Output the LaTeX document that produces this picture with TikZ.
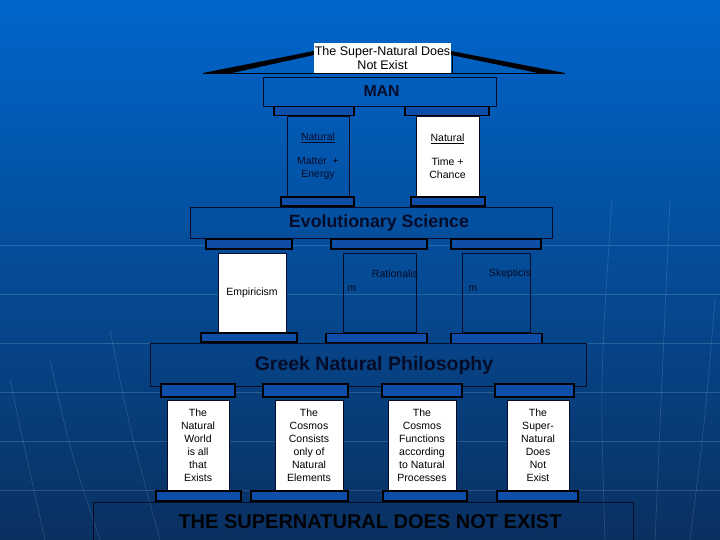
\documentclass[tikz,border=0pt]{standalone}
\usepackage{fontspec}
\setmainfont{Liberation Sans}
\usepackage{tikz}
\usetikzlibrary{positioning}

\definecolor{bgtop}{RGB}{0,102,204}
\definecolor{bgbot}{RGB}{10,48,96}
\definecolor{navy}{RGB}{6,12,40}
\definecolor{capblue}{RGB}{14,78,168}

\begin{document}
\begin{tikzpicture}[
  x=1pt, y=-1pt,
  beam/.style={draw=navy, inner sep=0, text=navy, font=\bfseries},
  capital/.style={draw=black, line width=1.8pt, fill=capblue, inner sep=0},
  pillar/.style={draw=navy, inner sep=0, align=center, font=\fontsize{10.5}{13}\selectfont},
  label/.style={inner sep=0, text=navy, font=\fontsize{10.5}{13}\selectfont},
  globe/.style={white!70!bgtop, opacity=0.2, line width=0.6pt},
]
\useasboundingbox (0,0) rectangle (720,540);
\clip (0,0) rectangle (720,540);

% Background
\shade[top color=bgtop, bottom color=bgbot] (0,0) rectangle (720,540);
\foreach \yy in {245,294,343,392,441,490}
  \draw[globe] (0,\yy) -- (720,\yy);
\draw[globe] (10,380) .. controls (25,450) .. (45,540);
\draw[globe] (50,360) .. controls (70,450) .. (100,540);
\draw[globe] (110,330) .. controls (130,430) .. (160,540);
\draw[globe] (612,200) .. controls (600,380) .. (605,540);
\draw[globe] (670,200) .. controls (662,380) .. (655,540);
\draw[globe] (715,300) .. controls (705,420) .. (690,540);

% Roof
\fill[black] (203,73) -- (314,51) -- (314,55) -- (232,73) -- cycle;
\fill[black] (451,51) -- (565,73) -- (538,73) -- (451,55) -- cycle;
\draw[black] (203,73) -- (565,73);
\draw[black] (452,54) -- (452,73);
\node[fill=white, inner sep=0, minimum width=137pt, minimum height=30pt, align=center,
  font=\fontsize{12.5}{14}\selectfont] (roof) at (382.5,58) {The Super-Natural Does\\Not Exist};

% MAN
\node[beam, minimum width=233pt, minimum height=29pt] (man) at (379.5,91.5) {};
\node[beam, draw=none, font=\bfseries\fontsize{15.8}{18}\selectfont] (mantxt) at (381.5,91.5) {MAN};
\node[capital, minimum width=80pt, minimum height=9pt] (capA) at (314,111) {};
\node[capital, minimum width=84pt, minimum height=9pt] (capB) at (447,111) {};
\node[pillar, text=navy, minimum width=62pt, minimum height=80pt] (matter) at (318,156)
  {\underline{Natural}\\[11pt]Matter \ +\\Energy};
\node[pillar, fill=white, minimum width=63pt, minimum height=80pt] (chance) at (447.5,156)
  {\underline{Natural}\\[11pt]Time +\\Chance};
\node[capital, minimum width=73pt, minimum height=9pt] (baseA) at (317.5,201.5) {};
\node[capital, minimum width=74pt, minimum height=9pt] (baseB) at (448,201.5) {};

% Evolutionary Science
\node[beam, minimum width=362pt, minimum height=31pt] (evo) at (371,222.5) {};
\node[beam, draw=none, font=\bfseries\fontsize{17.8}{20}\selectfont] (evotxt) at (379,222.5) {Evolutionary Science};
\node[capital, minimum width=86pt, minimum height=10pt] (capC) at (249,244) {};
\node[capital, minimum width=96pt, minimum height=10pt] (capD) at (379,244) {};
\node[capital, minimum width=90pt, minimum height=10pt] (capE) at (496,244) {};
\node[pillar, fill=white, minimum width=68pt, minimum height=79pt] (emp) at (252,292.5) {Empiricism};
\node[pillar, minimum width=73pt, minimum height=79pt] (rat) at (379.5,292.5) {};
\node[pillar, minimum width=68pt, minimum height=79pt] (skep) at (496,292.5) {};
\node[label] (ratA) at (395,274) {Rationalis};
\node[label] (ratB) at (352,289) {m};
\node[label] (skepA) at (510,274) {Skepticis};
\node[label] (skepB) at (473,289) {m};
\node[capital, minimum width=96pt, minimum height=9pt] (baseC) at (249,337.5) {};
\node[capital, minimum width=101pt, minimum height=9pt] (baseD) at (376.5,338) {};
\node[capital, minimum width=91pt, minimum height=10pt] (baseE) at (496.5,338.5) {};

% Greek Natural Philosophy
\node[beam, minimum width=436pt, minimum height=43pt] (greek) at (368,364.5) {};
\node[beam, draw=none, font=\bfseries\fontsize{19.5}{22}\selectfont] (greektxt) at (374,365.5) {Greek Natural Philosophy};
\node[capital, minimum width=74pt, minimum height=13pt] (capF) at (198,390.5) {};
\node[capital, minimum width=85pt, minimum height=13pt] (capG) at (305.5,390.5) {};
\node[capital, minimum width=80pt, minimum height=13pt] (capH) at (422,390.5) {};
\node[capital, minimum width=79pt, minimum height=13pt] (capI) at (534.5,390.5) {};
\node[pillar, fill=white, minimum width=62pt, minimum height=90pt] (world) at (198,445)
  {The\\Natural\\World\\is all\\that\\Exists};
\node[pillar, fill=white, minimum width=68pt, minimum height=90pt] (elements) at (309,445)
  {The\\Cosmos\\Consists\\only of\\Natural\\Elements};
\node[pillar, fill=white, minimum width=68pt, minimum height=90pt] (processes) at (422,445)
  {The\\Cosmos\\Functions\\according\\to Natural\\Processes};
\node[pillar, fill=white, minimum width=62pt, minimum height=90pt] (exist) at (538,445)
  {The\\Super-\\Natural\\Does\\Not\\Exist};
\node[capital, minimum width=85pt, minimum height=10pt] (baseF) at (198.5,496) {};
\node[capital, minimum width=97pt, minimum height=10pt] (baseG) at (299.5,496) {};
\node[capital, minimum width=84pt, minimum height=10pt] (baseH) at (425,496) {};
\node[capital, minimum width=81pt, minimum height=10pt] (baseI) at (537.5,496) {};

% Foundation
\node[beam, minimum width=540pt, minimum height=44pt] (found) at (363,524) {};
\node[text=black!85!navy, font=\bfseries\fontsize{20}{22}\selectfont] (foundtxt) at (370,522) {THE SUPERNATURAL DOES NOT EXIST};

\end{tikzpicture}
\end{document}
